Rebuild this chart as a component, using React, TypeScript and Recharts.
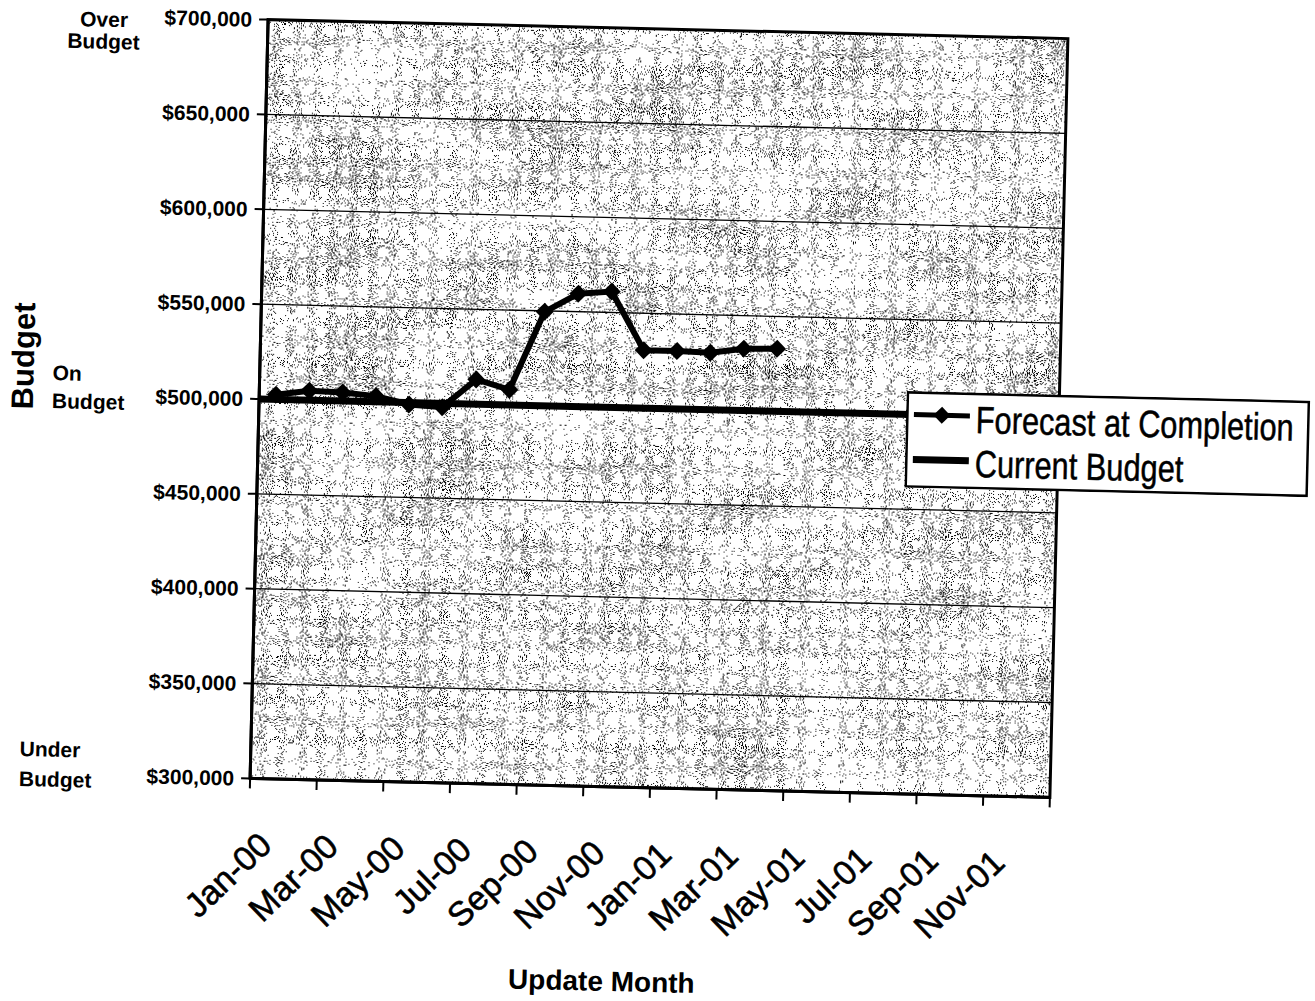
import React from "react";
import {
  LineChart,
  Line,
  XAxis,
  YAxis,
  CartesianGrid,
  ReferenceLine,
  ReferenceArea,
  Legend
} from "recharts";

// update months on the category axis
const months = [
  "Jan-00", "Feb-00", "Mar-00", "Apr-00", "May-00", "Jun-00",
  "Jul-00", "Aug-00", "Sep-00", "Oct-00", "Nov-00", "Dec-00",
  "Jan-01", "Feb-01", "Mar-01", "Apr-01", "May-01", "Jun-01",
  "Jul-01", "Aug-01", "Sep-01", "Oct-01", "Nov-01", "Dec-01"
];

// forecast at completion, Jan-00 .. Apr-01
const forecastAtCompletion = [
  502500, 505000, 504500, 503000, 499000, 498000, 513000, 508000,
  549500, 559500, 561000, 530500, 530500, 530000, 532500, 533000
];

const currentBudget = 500000;

const yTicks = [300000, 350000, 400000, 450000, 500000, 550000, 600000, 650000, 700000];

const zoneNotes = [
  { value: 700000, lines: ["Over", "Budget"] },
  { value: 500000, lines: ["On", "Budget"] },
  { value: 300000, lines: ["Under", "Budget"] }
];

const seriesNames = ["Forecast at Completion", "Current Budget"];

const FONT = "'Liberation Sans', Arial, Helvetica, sans-serif";
const CHART_W = 1315;
const CHART_H = 1001;
const PLOT = { left: 259, top: 29, width: 800, height: 759 };

// where the zone notes sit next to their tick
const NOTE_LAYOUT: Record<number, { x: number; anchor: "start" | "middle"; offsets: number[] }> = {
  700000: { x: 95, anchor: "middle", offsets: [11, 33] },
  500000: { x: 52, anchor: "start", offsets: [-14, 14] },
  300000: { x: 28, anchor: "start", offsets: [-17, 13] }
};

const data = months.map((month, i) => ({
  idx: i,
  month,
  forecast: i < forecastAtCompletion.length ? forecastAtCompletion[i] : null
}));

// tick marks sit between categories, one every second month
const xTicks = Array.from({ length: months.length / 2 + 1 }, (_, k) => k * 2 - 0.5);
const halfBand = PLOT.width / months.length / 2;

const fmtMoney = (v: number) => `$${v.toLocaleString("en-US")}`;

// threshold table for the speckle filter (alpha >= 0.625 becomes a dot)
const speckleTable = Array.from({ length: 40 }, (_, i) => (i < 25 ? 0 : 1)).join(" ");

const XTick = (props: any) => {
  const { x, y, payload } = props;
  const label = months[payload.value + 0.5];
  if (!label) return <g />;
  const tx = x + halfBand;
  return (
    <text
      x={tx}
      y={y}
      transform={`rotate(-45 ${tx} ${y})`}
      textAnchor="end"
      dominantBaseline="central"
      fontSize={34}
      fontFamily={FONT}
      fill="#000"
      stroke="#000"
      strokeWidth={0.6}
    >
      {label}
    </text>
  );
};

const YTick = (props: any) => {
  const { x, y, payload } = props;
  const v = payload.value as number;
  const note = zoneNotes.find(n => n.value === v);
  const pos = NOTE_LAYOUT[v];
  return (
    <g fontFamily={FONT} fontWeight="bold" fill="#000">
      <text x={x} y={y} textAnchor="end" dominantBaseline="central" fontSize={21}>
        {fmtMoney(v)}
      </text>
      {note && pos &&
        note.lines.map((line, i) => (
          <text key={line + i} x={pos.x} y={y + pos.offsets[i]} textAnchor={pos.anchor} fontSize={21}>
            {line}
          </text>
        ))}
    </g>
  );
};

const DiamondDot = (props: any) => {
  const { cx, cy, index, value } = props;
  if (cx == null || cy == null || value == null) return <g key={`d-${index}`} />;
  const r = 9;
  return (
    <path
      key={`d-${index}`}
      d={`M${cx},${cy - r}L${cx + r},${cy}L${cx},${cy + r}L${cx - r},${cy}Z`}
      fill="#000"
    />
  );
};

// narrow legend lettering: regular face squeezed horizontally
const LegendBox = () => (
  <svg width={406} height={97} style={{ display: "block" }}>
    <rect x={1.5} y={1.5} width={401} height={94} fill="#fff" stroke="#000" strokeWidth={2.5} />
    <line x1={8} y1={23.5} x2={64} y2={23.5} stroke="#000" strokeWidth={5} />
    <path d="M36,15 L44.5,23.5 L36,32 L27.5,23.5 Z" fill="#000" />
    <g transform="translate(70 40.5) scale(0.81 1)" fontFamily={FONT} fontSize={38} fill="#000" stroke="#000" strokeWidth={0.5}>
      <text x={0} y={0}>{seriesNames[0]}</text>
    </g>
    <line x1={8} y1={68.5} x2={64} y2={68.5} stroke="#000" strokeWidth={7} />
    <g transform="translate(70 84.5) scale(0.81 1)" fontFamily={FONT} fontSize={38} fill="#000" stroke="#000" strokeWidth={0.5}>
      <text x={0} y={0}>{seriesNames[1]}</text>
    </g>
  </svg>
);

const App: React.FC = () => {
  return (
    <div
      style={{
        position: "absolute",
        left: 0,
        top: 0,
        width: CHART_W,
        height: CHART_H,
        overflow: "hidden",
        background: "#fff"
      }}
    >
      <div
        style={{
          position: "relative",
          width: CHART_W,
          height: CHART_H,
          transform: "rotate(1.36deg)",
          transformOrigin: "659px 408px"
        }}
      >
        <LineChart
          width={CHART_W}
          height={CHART_H}
          data={data}
          margin={{ top: PLOT.top, right: CHART_W - PLOT.left - PLOT.width, bottom: 0, left: 0 }}
        >
          <defs>
            {/* speckled plot-area fill: fine grain with a gentle cloudy variation */}
            <filter id="grain" x="0" y="0" width="100%" height="100%" colorInterpolationFilters="sRGB">
              <feTurbulence type="fractalNoise" baseFrequency="0.95" numOctaves={1} seed={4} result="fine" />
              <feColorMatrix
                in="fine"
                type="matrix"
                values="1 0 0 0 0  1 0 0 0 0  1 0 0 0 0  0 0 0 0 1"
                result="fineO"
              />
              <feTurbulence type="fractalNoise" baseFrequency="0.01 0.02" numOctaves={2} seed={9} result="coarse" />
              <feColorMatrix
                in="coarse"
                type="matrix"
                values="1 0 0 0 0  1 0 0 0 0  1 0 0 0 0  0 0 0 0 1"
                result="coarseO"
              />
              <feComposite in="fineO" in2="coarseO" operator="arithmetic" k1={0} k2={1} k3={0.2} k4={-0.1} result="mix" />
              <feColorMatrix
                in="mix"
                type="matrix"
                values="0 0 0 0 0  0 0 0 0 0  0 0 0 0 0  1 0 0 0 0"
              />
              <feComponentTransfer>
                <feFuncA type="discrete" tableValues={speckleTable} />
              </feComponentTransfer>
            </filter>
            <pattern id="stipple" patternUnits="userSpaceOnUse" width={CHART_W} height={CHART_H}>
              <rect width={CHART_W} height={CHART_H} fill="#fff" />
              <rect width={CHART_W} height={CHART_H} fill="#000" filter="url(#grain)" />
            </pattern>
          </defs>

          <CartesianGrid
            vertical={false}
            stroke="#000"
            strokeWidth={1.3}
            fill="url(#stipple)"
            fillOpacity={1}
          />

          <XAxis
            dataKey="idx"
            type="number"
            domain={[-0.5, 23.5]}
            ticks={xTicks}
            interval={0}
            height={CHART_H - PLOT.top - PLOT.height}
            tickSize={10}
            tickMargin={50}
            tick={<XTick />}
            tickLine={{ stroke: "#000", strokeWidth: 2 }}
            axisLine={{ stroke: "#000", strokeWidth: 3 }}
            label={() => (
              <text x={615} y={992} textAnchor="middle" fontSize={28} fontWeight="bold" fontFamily={FONT} fill="#000">
                Update Month
              </text>
            )}
          />
          <YAxis
            type="number"
            domain={[300000, 700000]}
            ticks={yTicks}
            interval={0}
            width={PLOT.left}
            tickSize={9}
            tickMargin={7}
            tick={<YTick />}
            tickLine={{ stroke: "#000", strokeWidth: 2 }}
            axisLine={{ stroke: "#000", strokeWidth: 3 }}
            label={() => (
              <text
                x={33}
                y={371}
                transform="rotate(-90 33 371)"
                textAnchor="middle"
                fontSize={31}
                fontWeight="bold"
                fontFamily={FONT}
                fill="#000"
              >
                Budget
              </text>
            )}
          />

          <ReferenceArea
            x1={-0.5}
            x2={23.5}
            y1={300000}
            y2={700000}
            fill="none"
            fillOpacity={0}
            stroke="#000"
            strokeWidth={3}
            ifOverflow="visible"
          />

          <ReferenceLine y={currentBudget} stroke="#000" strokeWidth={7} />

          <Line
            type="linear"
            dataKey="forecast"
            name={seriesNames[0]}
            stroke="#000"
            strokeWidth={6}
            dot={DiamondDot}
            activeDot={false}
            isAnimationActive={false}
          />

          <Legend
            layout="vertical"
            align="center"
            verticalAlign="middle"
            wrapperStyle={{ left: 906, top: 385, width: 404, height: 97 }}
            content={() => <LegendBox />}
          />
        </LineChart>
      </div>
    </div>
  );
};

export default App;
